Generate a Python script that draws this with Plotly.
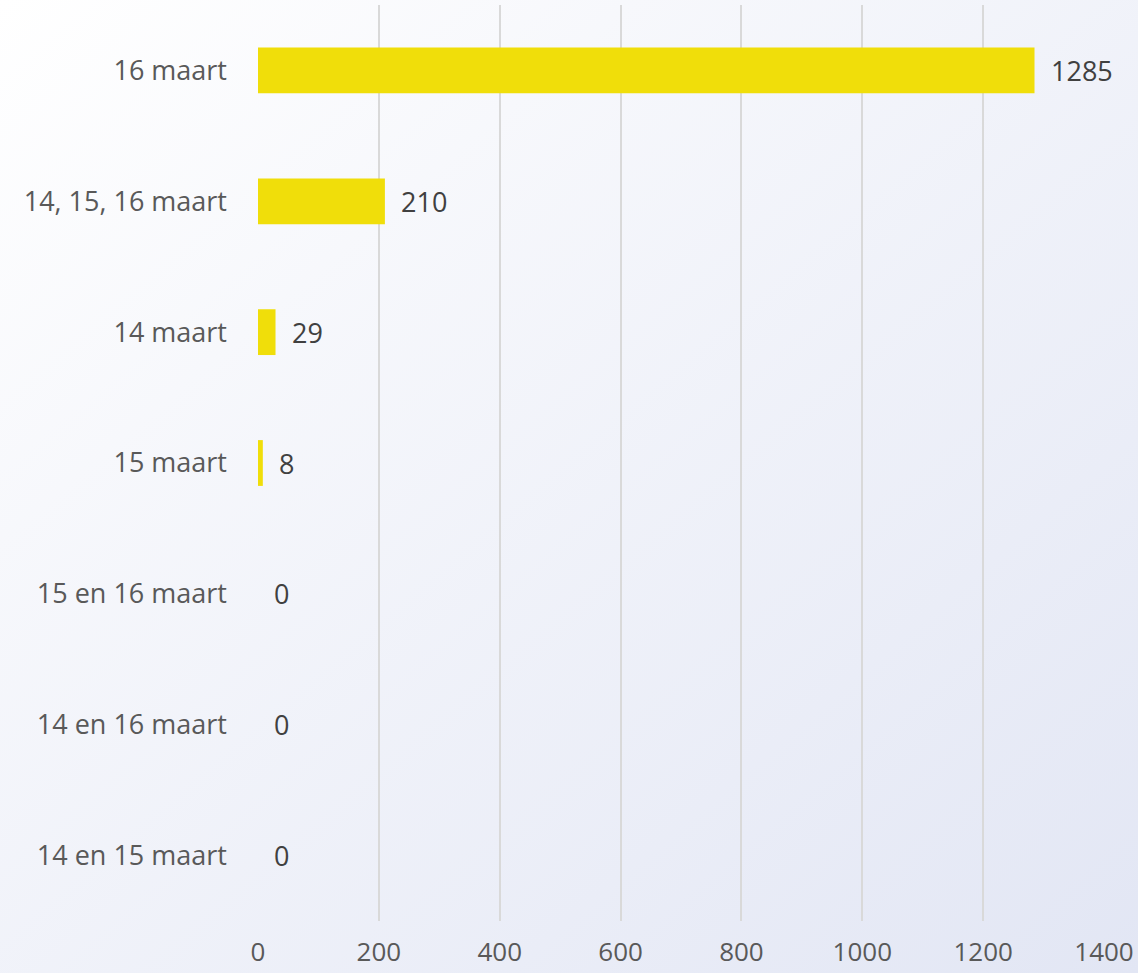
import base64
import plotly.graph_objects as go

categories = ["16 maart", "14, 15, 16 maart", "14 maart", "15 maart",
              "15 en 16 maart", "14 en 16 maart", "14 en 15 maart"]
values = [1285, 210, 29, 8, 0, 0, 0]
x_ticks = [0, 200, 400, 600, 800, 1000, 1200, 1400]

W, H = 1138, 973
L, R, T, B = 258, 34, 5, 52
pw, ph = W - L - R, H - T - B

svg = ('<svg xmlns="http://www.w3.org/2000/svg" width="1138" height="973">'
       '<defs><linearGradient id="g" x1="0" y1="0" x2="1" y2="1">'
       '<stop offset="0" stop-color="#ffffff"/><stop offset="1" stop-color="#e2e6f4"/>'
       '</linearGradient></defs><rect width="1138" height="973" fill="url(#g)"/></svg>')
uri = "data:image/svg+xml;base64," + base64.b64encode(svg.encode()).decode()

font = "Open Sans"
fs = 27
fig = go.Figure()
fig.add_trace(go.Bar(
    x=values, y=categories, orientation="h",
    marker=dict(color="#f0de0a", line=dict(width=0)),
    width=0.35, hoverinfo="x+y",
))
for v, c in zip(values, categories):
    fig.add_annotation(x=v, y=c, text=str(v), showarrow=False,
                       xanchor="left", xshift=14,
                       font=dict(family=font, size=fs, color="#404040"))

fig.update_layout(
    width=W, height=H,
    margin=dict(l=L, r=R, t=T, b=B, autoexpand=False),
    paper_bgcolor="rgba(0,0,0,0)", plot_bgcolor="rgba(0,0,0,0)",
    showlegend=False,
    images=[dict(source=uri, xref="paper", yref="paper",
                 x=-L / pw, y=1 + T / ph, sizex=W / pw, sizey=H / ph,
                 xanchor="left", yanchor="top", sizing="stretch", layer="below")],
    xaxis=dict(range=[0, 1400], tickvals=x_ticks, showgrid=True, automargin=False,
               gridcolor="#d9d9d9", gridwidth=1.5, zeroline=False,
               showline=False, ticks="", ticklabelstandoff=13,
               tickfont=dict(family=font, size=26, color="#595959")),
    yaxis=dict(autorange="reversed", showgrid=False, zeroline=False, automargin=False,
               showline=False, ticks="", ticklabelstandoff=30,
               tickfont=dict(family=font, size=fs, color="#595959")),
)
fig.write_html("out.html",
               config={"displayModeBar": False, "responsive": False},
               post_script=["document.body.style.margin='0';"])
